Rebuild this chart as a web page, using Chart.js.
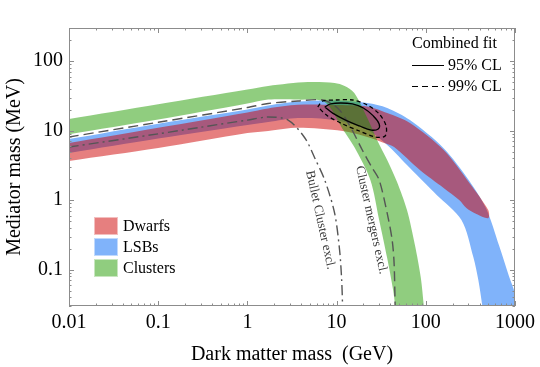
<!DOCTYPE html>
<html>
<head>
<meta charset="utf-8">
<title>Mediator mass vs dark matter mass</title>
<script src="https://cdn.jsdelivr.net/npm/chart.js@4.4.1/dist/chart.umd.min.js"></script>
<style>
    html, body { margin: 0; padding: 0; background: #fff; }
    #wrap { width: 540px; height: 367px; }
</style>
</head>
<body>
<div id="wrap"><canvas id="grafico" width="540" height="367"></canvas></div>
<script>
// Eixos log-log
const xTicks = [0.01, 0.1, 1, 10, 100, 1000];
const yTicks = [0.1, 1, 10, 100];
const xRange = [0.01, 1000];
const yRange = [0.03, 300];

// Bandas: [massa DM (GeV), massa do mediador (MeV)], borda superior e inferior
const dwarfsUpper = [[0.008, 6.4], [0.01, 6.64], [0.1, 11.0], [1, 18.3], [1.71, 20.9], [3.69, 23.5], [9.5, 23.4], [22.1, 22.3], [36.9, 17.9], [66.4, 12.9], [158.5, 5.27], [308, 1.77], [501, 0.72]];
const dwarfsLower = [[0.008, 3.45], [0.01, 3.66], [0.1, 5.63], [1, 9.25], [1.71, 9.89], [3.69, 11.0], [11.66, 9.89], [22.1, 8.11], [34.1, 6.64], [44.1, 5.82], [85.8, 2.72], [158.5, 1.5], [238.6, 1.0], [285, 0.77], [369, 0.63], [501, 0.55]];

const lsbUpper = [[0.008, 7.3], [0.01, 7.59], [0.1, 12.6], [1, 20.2], [1.71, 23.0], [3.69, 26.2], [9.5, 27.2], [22.1, 25.0], [36.9, 21.2], [66.4, 14.2], [158.5, 5.6], [308, 1.89], [476, 0.75], [664, 0.22], [858, 0.08], [1000, 0.046], [1150, 0.02]];
const lsbLower = [[0.008, 4.55], [0.01, 4.77], [0.1, 7.7], [1, 12.1], [1.71, 13.3], [3.69, 15.2], [10.26, 14.0], [22.1, 10.2], [36.9, 6.22], [66.4, 2.9], [132.5, 1.19], [251, 0.52], [341, 0.152], [388, 0.071], [430, 0.03], [445, 0.02]];

const clustersUpper = [[0.008, 14.0], [0.01, 14.7], [0.1, 24.0], [1, 39], [1.71, 44], [4.76, 50], [9.5, 48.5], [12.3, 43.9], [15.8, 34.8], [22.1, 15.2], [28.5, 7.3], [36.9, 3.78], [47.6, 1.82], [61.5, 0.72], [75.5, 0.226], [88, 0.076], [95, 0.03], [98, 0.02]];
const clustersLower = [[0.008, 8.5], [0.01, 8.9], [0.1, 14.5], [1, 24.6], [1.71, 28], [3.69, 28], [7.36, 25.8], [11.66, 10.6], [15.8, 5.82], [23.9, 1.95], [30, 0.52], [36.9, 0.147], [43, 0.051], [45.3, 0.03], [46, 0.02]];

// Curvas de exclusão
const bulletCluster = [[0.01, 5.82], [0.1, 9.0], [0.286, 11.1], [1, 14.2], [1.71, 15.7], [2.86, 14.2], [4.41, 7.84], [5.69, 4.04], [7.36, 1.95], [9.5, 0.65], [10.8, 0.192], [11.4, 0.071], [11.66, 0.03], [11.7, 0.02]];
const clusterMergers = [[0.01, 8.11], [0.1, 13.2], [1, 21.5], [1.71, 24.6], [3.69, 26.7], [6.99, 27.6], [10.26, 21.2], [13.9, 12.1], [19.4, 5.27], [25.1, 2.9], [30, 1.95], [36.9, 0.65], [41.9, 0.27], [44.1, 0.125], [45.3, 0.03], [45.5, 0.02]];

// Ajuste combinado (contornos)
const fit95 = [[7.36, 21.9], [8.58, 24.2], [11.08, 25.0], [15.06, 24.2], [19.95, 21.2], [25.8, 16.3], [30.0, 12.5], [29.3, 10.6], [24.5, 10.2], [18.0, 11.7], [12.6, 14.2], [9.03, 17.9], [7.36, 21.9]];
const fit99 = [[6.15, 21.9], [6.99, 26.7], [9.75, 27.6], [15.06, 27.6], [22.1, 23.4], [30.0, 17.4], [35.9, 11.7], [35.0, 8.38], [27.1, 8.11], [18.0, 9.89], [11.66, 12.5], [7.94, 16.3], [6.15, 21.9]];

// Rótulos dentro do gráfico
const rotulos = [
    { text: 'Bullet Cluster excl.', x: 6.56, y: 0.52, angle: 77.6 },
    { text: 'Cluster mergers excl.', x: 24.5, y: 0.52, angle: 77.4 }
];

const FONTE = '"Liberation Serif", "Times New Roman", serif';

// Função para converter pares em pontos
function paraPontos(lista) {
    return lista.map(p => ({ x: p[0], y: p[1] }));
}

// Função para montar o polígono fechado de uma banda
function montarBanda(superior, inferior) {
    return paraPontos(superior.concat(inferior.slice().reverse()));
}

function banda(label, sup, inf, cor, corLegenda, ordem) {
    return {
        label: label,
        data: montarBanda(sup, inf),
        backgroundColor: cor,
        legendColor: corLegenda,
        borderColor: 'transparent',
        borderWidth: 0,
        pointRadius: 0,
        tension: 0.3,
        fill: 'shape',
        order: ordem,
        isBand: true
    };
}

function curva(label, lista, cor, tracejado, largura) {
    return {
        label: label,
        data: paraPontos(lista),
        borderColor: cor,
        borderWidth: largura,
        borderDash: tracejado,
        pointRadius: 0,
        tension: 0.3,
        fill: false,
        order: 0
    };
}

// Plugin para moldura, marcas, legendas e rótulos
const molduraPlugin = {
    id: 'moldura',
    afterDraw(chart) {
        const { ctx, chartArea: a, scales: { x, y } } = chart;
        ctx.save();

        // Moldura
        ctx.strokeStyle = '#8c8c8c';
        ctx.lineWidth = 1;
        ctx.strokeRect(a.left + 0.5, a.top + 0.5, a.right - a.left - 1, a.bottom - a.top - 1);

        // Marcas nos quatro lados
        ctx.beginPath();
        for (let k = -2; k <= 3; k++) {
            for (let m = 1; m <= 9; m++) {
                const v = m * Math.pow(10, k);
                const len = m === 1 ? 5 : 2.5;
                if (v >= xRange[0] * 0.999 && v <= xRange[1] * 1.001) {
                    const px = Math.round(x.getPixelForValue(v)) + 0.5;
                    ctx.moveTo(px, a.bottom); ctx.lineTo(px, a.bottom - len);
                    ctx.moveTo(px, a.top); ctx.lineTo(px, a.top + len);
                }
                if (v >= yRange[0] * 0.999 && v <= yRange[1] * 1.001) {
                    const py = Math.round(y.getPixelForValue(v)) + 0.5;
                    ctx.moveTo(a.left, py); ctx.lineTo(a.left + len, py);
                    ctx.moveTo(a.right, py); ctx.lineTo(a.right - len, py);
                }
            }
        }
        ctx.stroke();

        // Rótulos das curvas de exclusão
        ctx.fillStyle = '#3a3a3a';
        ctx.font = '13px ' + FONTE;
        ctx.textAlign = 'center';
        ctx.textBaseline = 'middle';
        rotulos.forEach(r => {
            ctx.save();
            ctx.translate(x.getPixelForValue(r.x), y.getPixelForValue(r.y));
            ctx.rotate(r.angle * Math.PI / 180);
            ctx.fillText(r.text, 0, 0);
            ctx.restore();
        });

        // Legenda das bandas
        const bandas = chart.data.datasets.filter(d => d.isBand)
            .sort((p, q) => q.order - p.order);
        const ordemLegenda = ['Dwarfs', 'LSBs', 'Clusters'];
        ctx.font = '16px ' + FONTE;
        ctx.textAlign = 'left';
        ordemLegenda.forEach((nome, i) => {
            const ds = bandas.find(d => d.label === nome);
            const top = a.top + 189 + i * 21;
            ctx.fillStyle = ds.legendColor;
            ctx.fillRect(a.left + 25, top, 24, 18);
            ctx.strokeStyle = 'rgba(255,255,255,0.5)';
            ctx.strokeRect(a.left + 25.5, top + 0.5, 23, 17);
            ctx.fillStyle = '#000';
            ctx.fillText(nome, a.left + 54, top + 10);
        });

        // Legenda do ajuste combinado
        const lx = a.right - 103;
        ctx.fillStyle = '#000';
        ctx.fillText('Combined fit', lx, a.top + 16);
        ctx.strokeStyle = '#000';
        ctx.lineWidth = 1;
        ctx.beginPath();
        ctx.moveTo(lx, a.top + 37.5); ctx.lineTo(lx + 32, a.top + 37.5);
        ctx.stroke();
        ctx.fillText('95% CL', lx + 36, a.top + 38);
        ctx.setLineDash([6, 4]);
        ctx.beginPath();
        ctx.moveTo(lx, a.top + 58.5); ctx.lineTo(lx + 32, a.top + 58.5);
        ctx.stroke();
        ctx.setLineDash([]);
        ctx.fillText('99% CL', lx + 36, a.top + 59);

        ctx.restore();
    }
};

document.addEventListener('DOMContentLoaded', function() {
    Chart.defaults.font.family = FONTE;
    Chart.defaults.color = '#000';

    const ctx = document.getElementById('grafico').getContext('2d');
    new Chart(ctx, {
        type: 'line',
        data: {
            datasets: [
                banda('LSBs', lsbUpper, lsbLower, 'rgb(128,179,250)', '#80b3fa', 3),
                banda('Dwarfs', dwarfsUpper, dwarfsLower, 'rgba(205,0,0,0.5)', '#e67f7f', 2),
                banda('Clusters', clustersUpper, clustersLower, 'rgba(33,155,0,0.5)', '#90cd7f', 1),
                {
                    label: 'Combined fit 95% fill',
                    data: paraPontos(fit95),
                    backgroundColor: 'rgba(30,50,10,0.12)',
                    borderColor: '#000',
                    borderWidth: 1.3,
                    pointRadius: 0,
                    tension: 0.4,
                    fill: 'shape',
                    order: 0
                },
                curva('99% CL', fit99, '#000', [4, 3], 1.3),
                curva('Bullet Cluster excl.', bulletCluster, '#555', [10, 4, 2, 4], 1.4),
                curva('Cluster mergers excl.', clusterMergers, '#555', [10, 5], 1.4)
            ]
        },
        options: {
            responsive: false,
            devicePixelRatio: 1,
            animation: false,
            layout: { padding: { left: 0, top: 28, right: 21, bottom: 0 } },
            plugins: {
                legend: { display: false },
                tooltip: { enabled: false }
            },
            scales: {
                x: {
                    type: 'logarithmic',
                    min: xRange[0],
                    max: xRange[1],
                    afterBuildTicks: (scale) => { scale.ticks = xTicks.map(v => ({ value: v })); },
                    afterFit: (scale) => { scale.height = 61; },
                    ticks: {
                        callback: (v) => String(v),
                        font: { size: 20 },
                        color: '#000',
                        padding: 5,
                        maxRotation: 0,
                        autoSkip: false
                    },
                    grid: { display: false, drawTicks: false },
                    border: { display: false },
                    title: {
                        display: true,
                        text: 'Dark matter mass  (GeV)',
                        font: { size: 20 },
                        color: '#000',
                        padding: { top: 0, bottom: 0 }
                    }
                },
                y: {
                    type: 'logarithmic',
                    min: yRange[0],
                    max: yRange[1],
                    afterBuildTicks: (scale) => { scale.ticks = yTicks.map(v => ({ value: v })); },
                    afterFit: (scale) => { scale.width = 69; },
                    ticks: {
                        callback: (v) => String(v),
                        font: { size: 20 },
                        color: '#000',
                        padding: 6,
                        autoSkip: false
                    },
                    grid: { display: false, drawTicks: false },
                    border: { display: false },
                    title: {
                        display: true,
                        text: 'Mediator mass (MeV)',
                        font: { size: 20 },
                        color: '#000',
                        padding: { top: 3, bottom: 0 }
                    }
                }
            }
        },
        plugins: [molduraPlugin]
    });
});
</script>
</body>
</html>
